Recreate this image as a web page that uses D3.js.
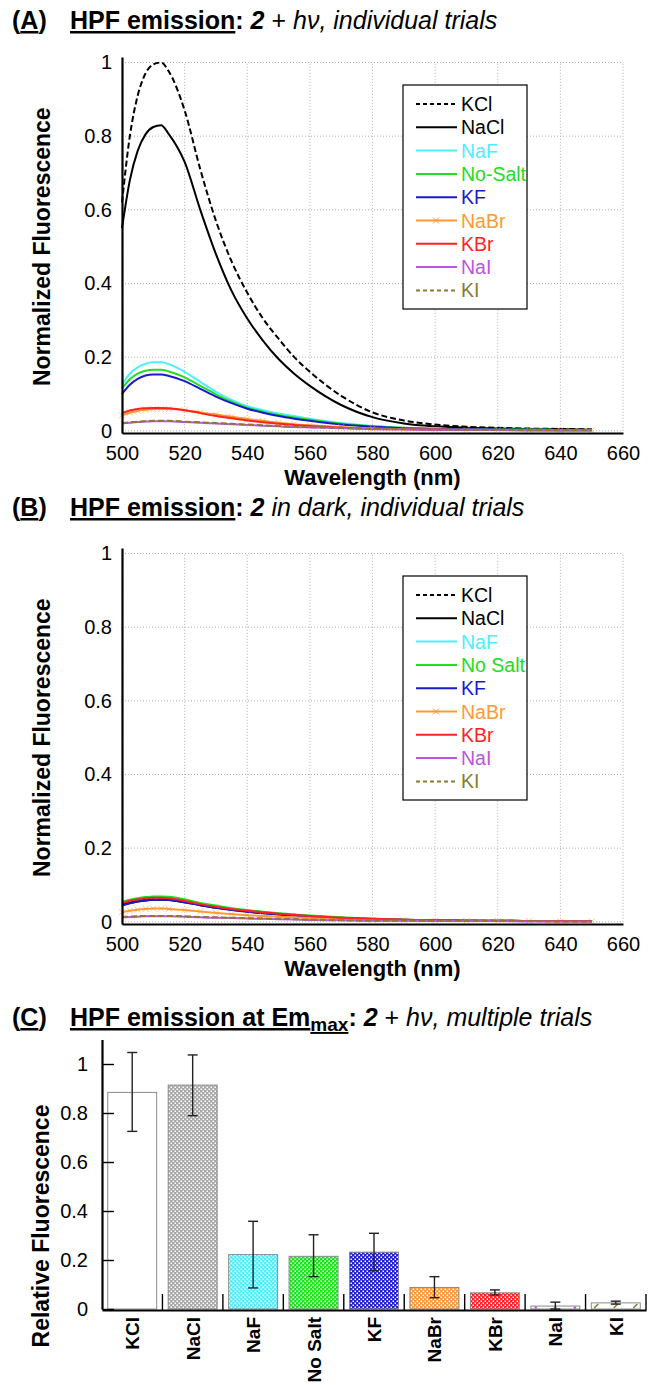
<!DOCTYPE html>
<html>
<head>
<meta charset="utf-8">
<script src="https://cdn.jsdelivr.net/npm/d3@7"></script>
<style>
  body { margin: 0; background: #fff; }
  svg { display: block; font-family: "Liberation Sans", Arial, sans-serif; }
  .title { white-space: pre; }
</style>
</head>
<body>
<svg width="648" height="1385"></svg>
<script>
// wavelengths (nm) shared by every spectrum
const wavelengths = [500, 502.5, 505, 507.5, 510, 512.5, 515, 520, 525, 530, 535, 540, 545, 550, 555, 560, 570, 580, 590, 600, 610, 620, 630, 640, 650];

const xTicks = [500, 520, 540, 560, 580, 600, 620, 640, 660];
const yTicks = [0, 0.2, 0.4, 0.6, 0.8, 1];

const namesA = ['KCl', 'NaCl', 'NaF', 'No-Salt', 'KF', 'NaBr', 'KBr', 'NaI', 'KI'];
const namesB = ['KCl', 'NaCl', 'NaF', 'No Salt', 'KF', 'NaBr', 'KBr', 'NaI', 'KI'];
const saltColors = ['#000000', '#000000', '#4deeff', '#22dd22', '#1a1acc', '#ff9933', '#ff2222', '#bb55dd', '#8a7a30'];

// (A) 2 + hv
const kclA = [0.62, 0.80, 0.91, 0.97, 0.995, 1.0, 0.975, 0.87, 0.71, 0.57, 0.46, 0.375, 0.305, 0.25, 0.2, 0.16, 0.095, 0.05, 0.028, 0.017, 0.011, 0.008, 0.006, 0.005, 0.004];
const naclA = [0.55, 0.68, 0.76, 0.805, 0.825, 0.83, 0.805, 0.73, 0.6, 0.48, 0.38, 0.305, 0.245, 0.195, 0.155, 0.122, 0.07, 0.037, 0.02, 0.012, 0.008, 0.006, 0.005, 0.004, 0.003];
const nafA = [0.125, 0.155, 0.172, 0.182, 0.186, 0.186, 0.181, 0.16, 0.133, 0.106, 0.084, 0.067, 0.056, 0.047, 0.04, 0.033, 0.021, 0.013, 0.008, 0.006, 0.004, 0.003, 0.003, 0.002, 0.002];
const nosaltA = [0.115, 0.14, 0.155, 0.163, 0.166, 0.166, 0.161, 0.145, 0.122, 0.099, 0.079, 0.063, 0.052, 0.043, 0.036, 0.03, 0.019, 0.012, 0.008, 0.005, 0.004, 0.003, 0.003, 0.002, 0.002];
const kfA = [0.1, 0.125, 0.141, 0.15, 0.153, 0.153, 0.149, 0.135, 0.114, 0.093, 0.075, 0.06, 0.049, 0.04, 0.033, 0.027, 0.017, 0.011, 0.007, 0.005, 0.004, 0.003, 0.002, 0.002, 0.002];
const nabrA = [0.042, 0.049, 0.054, 0.057, 0.059, 0.059, 0.059, 0.056, 0.05, 0.044, 0.038, 0.032, 0.027, 0.022, 0.018, 0.015, 0.01, 0.006, 0.004, 0.003, 0.002, 0.002, 0.002, 0.001, 0.001];
const kbrA = [0.048, 0.055, 0.059, 0.061, 0.062, 0.062, 0.061, 0.056, 0.048, 0.04, 0.034, 0.028, 0.023, 0.019, 0.016, 0.013, 0.008, 0.005, 0.004, 0.003, 0.002, 0.002, 0.001, 0.001, 0.001];
const naiA = [0.02, 0.022, 0.024, 0.025, 0.026, 0.026, 0.026, 0.024, 0.022, 0.02, 0.018, 0.016, 0.014, 0.012, 0.01, 0.009, 0.007, 0.005, 0.004, 0.003, 0.003, 0.002, 0.002, 0.002, 0.002];
const kiA = [0.021, 0.023, 0.025, 0.026, 0.027, 0.027, 0.027, 0.025, 0.023, 0.021, 0.019, 0.017, 0.015, 0.013, 0.011, 0.01, 0.008, 0.006, 0.005, 0.004, 0.003, 0.003, 0.002, 0.002, 0.002];

// (B) 2 in dark
const kclB = [0.048, 0.053, 0.057, 0.06, 0.062, 0.062, 0.061, 0.055, 0.047, 0.04, 0.034, 0.029, 0.025, 0.021, 0.018, 0.015, 0.011, 0.007, 0.005, 0.004, 0.003, 0.003, 0.002, 0.002, 0.002];
const naclB = [0.046, 0.051, 0.055, 0.058, 0.06, 0.06, 0.059, 0.053, 0.045, 0.038, 0.033, 0.028, 0.024, 0.02, 0.017, 0.015, 0.01, 0.007, 0.005, 0.004, 0.003, 0.003, 0.002, 0.002, 0.002];
const nafB = [0.052, 0.058, 0.062, 0.065, 0.066, 0.066, 0.065, 0.058, 0.049, 0.042, 0.035, 0.03, 0.026, 0.022, 0.019, 0.016, 0.011, 0.008, 0.006, 0.004, 0.003, 0.003, 0.002, 0.002, 0.002];
const nosaltB = [0.054, 0.06, 0.064, 0.067, 0.069, 0.069, 0.068, 0.061, 0.051, 0.044, 0.037, 0.032, 0.027, 0.023, 0.02, 0.017, 0.012, 0.008, 0.006, 0.004, 0.003, 0.003, 0.002, 0.002, 0.002];
const kfB = [0.044, 0.05, 0.055, 0.058, 0.06, 0.06, 0.059, 0.053, 0.045, 0.038, 0.032, 0.027, 0.023, 0.02, 0.017, 0.014, 0.01, 0.007, 0.005, 0.004, 0.003, 0.002, 0.002, 0.002, 0.001];
const nabrB = [0.026, 0.03, 0.033, 0.035, 0.036, 0.036, 0.035, 0.032, 0.028, 0.024, 0.021, 0.018, 0.016, 0.014, 0.012, 0.01, 0.007, 0.005, 0.004, 0.003, 0.002, 0.002, 0.002, 0.001, 0.001];
const kbrB = [0.05, 0.057, 0.061, 0.064, 0.065, 0.065, 0.064, 0.057, 0.048, 0.041, 0.035, 0.03, 0.026, 0.022, 0.019, 0.016, 0.011, 0.008, 0.006, 0.004, 0.003, 0.003, 0.002, 0.002, 0.002];
const naiB = [0.012, 0.013, 0.014, 0.015, 0.015, 0.015, 0.015, 0.014, 0.012, 0.011, 0.01, 0.009, 0.008, 0.007, 0.006, 0.005, 0.004, 0.003, 0.003, 0.002, 0.002, 0.002, 0.001, 0.001, 0.001];
const kiB = [0.013, 0.014, 0.015, 0.016, 0.016, 0.016, 0.016, 0.015, 0.013, 0.012, 0.011, 0.01, 0.009, 0.008, 0.007, 0.006, 0.004, 0.003, 0.003, 0.002, 0.002, 0.002, 0.002, 0.001, 0.001];

// (C) emission at Em max, multiple trials
const saltsC = ['KCl', 'NaCl', 'NaF', 'No Salt', 'KF', 'NaBr', 'KBr', 'NaI', 'KI'];
const barMeans = [0.884, 0.914, 0.222, 0.215, 0.232, 0.088, 0.066, 0.012, 0.025];
const barLow = [0.725, 0.789, 0.086, 0.132, 0.156, 0.046, 0.057, 0.0, 0.02];
const barHigh = [1.047, 1.037, 0.358, 0.303, 0.309, 0.132, 0.078, 0.028, 0.032];
const yTicksC = [0, 0.2, 0.4, 0.6, 0.8, 1];

const svg = d3.select('svg');
const defs = svg.append('defs');

// small text helper for the panel titles
function title(y, pieces) {
  const t = svg.append('text').attr('class', 'title').attr('y', y).attr('font-size', 25);
  pieces.forEach(p => {
    const s = t.append('tspan').text(p.t);
    if (p.x != null) s.attr('x', p.x);
    if (p.dy != null) s.attr('dy', p.dy);
    if (p.b) s.attr('font-weight', 'bold');
    if (p.i) s.attr('font-style', 'italic');
    if (p.u) s.attr('text-decoration', 'underline');
    if (p.fs) s.attr('font-size', p.fs);
  });
}

function spectrumPanel(top, series, names) {
  const x = d3.scaleLinear().domain([500, 660]).range([122, 623]);
  const y = d3.scaleLinear().domain([-0.006, 1.015]).range([top + 433, top + 57]);

  // dotted grid
  svg.append('g').selectAll('line').data(xTicks).enter().append('line')
    .attr('x1', d => x(d)).attr('x2', d => x(d))
    .attr('y1', y(0)).attr('y2', y(1))
    .attr('stroke', '#b0b0b0').attr('stroke-dasharray', '1,2');
  svg.append('g').selectAll('line').data(yTicks).enter().append('line')
    .attr('x1', x(500)).attr('x2', x(660))
    .attr('y1', d => y(d)).attr('y2', d => y(d))
    .attr('stroke', '#b0b0b0').attr('stroke-dasharray', '1,2');

  const line = d3.line()
    .x((d, i) => x(wavelengths[i]))
    .y(d => y(d))
    .curve(d3.curveMonotoneX);

  series.forEach((vals, i) => {
    svg.append('path')
      .attr('d', line(vals))
      .attr('fill', 'none')
      .attr('stroke', saltColors[i])
      .attr('stroke-width', 2)
      .attr('stroke-dasharray', (i === 0 || i === 8) ? '6,3' : null);
    if (i === 5) {
      // NaBr has x markers
      svg.append('g').selectAll('path').data(vals).enter().append('path')
        .attr('d', (d, j) => {
          const cx = x(wavelengths[j]), cy = y(d);
          return `M${cx - 3},${cy - 3}L${cx + 3},${cy + 3}M${cx - 3},${cy + 3}L${cx + 3},${cy - 3}`;
        })
        .attr('stroke', saltColors[5]).attr('stroke-width', 1).attr('opacity', 0.6);
    }
  });

  // axes
  const ya = svg.append('g').attr('transform', `translate(${x(500)},0)`)
    .call(d3.axisLeft(y).tickValues(yTicks).tickSize(0).tickPadding(10).tickFormat(d3.format('~g')));
  const xa = svg.append('g').attr('transform', `translate(0,${top + 433})`)
    .call(d3.axisBottom(x).tickValues(xTicks).tickSize(0).tickPadding(13));
  [ya, xa].forEach(a => {
    a.select('.domain').attr('stroke-width', 2.2);
    a.selectAll('text').attr('font-size', 20).attr('font-family', 'Liberation Sans, Arial, sans-serif').attr('fill', '#000');
  });

  svg.append('text')
    .attr('transform', `translate(50,${(y(0) + y(1)) / 2}) rotate(-90)`)
    .attr('text-anchor', 'middle').attr('font-weight', 'bold').attr('font-size', 23)
    .text('Normalized Fluorescence');
  svg.append('text')
    .attr('x', (x(500) + x(660)) / 2).attr('y', top + 485)
    .attr('text-anchor', 'middle').attr('font-weight', 'bold').attr('font-size', 22)
    .text('Wavelength (nm)');

  // legend
  const lg = svg.append('g');
  lg.append('rect').attr('x', 403).attr('y', top + 85).attr('width', 124).attr('height', 224)
    .attr('fill', '#fff').attr('stroke', '#000').attr('stroke-width', 1.2);
  names.forEach((n, i) => {
    const ly = top + 104 + i * 23.3;
    lg.append('line').attr('x1', 416).attr('x2', 457).attr('y1', ly).attr('y2', ly)
      .attr('stroke', saltColors[i]).attr('stroke-width', 2)
      .attr('stroke-dasharray', (i === 0 || i === 8) ? '4,3' : null);
    if (i === 5) {
      lg.append('path').attr('d', `M433,${ly - 3}L439,${ly + 3}M433,${ly + 3}L439,${ly - 3}`)
        .attr('stroke', saltColors[5]).attr('stroke-width', 1);
    }
    lg.append('text').attr('x', 461).attr('y', ly).attr('dy', '0.36em')
      .attr('font-size', 19.5).attr('fill', saltColors[i]).text(n);
  });
}

title(29, [
  { t: '(', b: 1, x: 12 }, { t: 'A', b: 1, u: 1 }, { t: ')', b: 1 },
  { t: 'HPF emission', b: 1, u: 1, x: 70 }, { t: ':', b: 1 }, { t: ' 2', b: 1, i: 1 },
  { t: ' + ' }, { t: 'hν', i: 1 }, { t: ', individual trials', i: 1 }
]);
spectrumPanel(0, [kclA, naclA, nafA, nosaltA, kfA, nabrA, kbrA, naiA, kiA], namesA);

title(516, [
  { t: '(', b: 1, x: 12 }, { t: 'B', b: 1, u: 1 }, { t: ')', b: 1 },
  { t: 'HPF emission', b: 1, u: 1, x: 70 }, { t: ':', b: 1 }, { t: ' 2', b: 1, i: 1 },
  { t: ' in dark, individual trials', i: 1 }
]);
spectrumPanel(491, [kclB, naclB, nafB, nosaltB, kfB, nabrB, kbrB, naiB, kiB], namesB);

// ---- panel C: bar chart ----
title(1026, [
  { t: '(', b: 1, x: 12 }, { t: 'C', b: 1, u: 1 }, { t: ')', b: 1 },
  { t: 'HPF emission at Em', b: 1, u: 1, x: 70 }, { t: 'max', b: 1, u: 1, fs: 19, dy: 5 },
  { t: ':', b: 1, dy: -5 }, { t: ' 2', b: 1, i: 1 },
  { t: ' + ' }, { t: 'hν', i: 1 }, { t: ', multiple trials', i: 1 }
]);

function checker(id, color) {
  const p = defs.append('pattern').attr('id', id).attr('patternUnits', 'userSpaceOnUse')
    .attr('width', 4).attr('height', 4);
  p.append('rect').attr('width', 4).attr('height', 4).attr('fill', color);
  p.append('rect').attr('x', 0.5).attr('y', 0.5).attr('width', 1.5).attr('height', 1.5).attr('fill', '#fff');
  p.append('rect').attr('x', 2.5).attr('y', 2.5).attr('width', 1.5).attr('height', 1.5).attr('fill', '#fff');
}
const barColors = ['#ffffff', '#a8a8a8', '#55eeff', '#22dd22', '#2020cc', '#ff9933', '#ff2222', '#ffffff', '#ffffff'];
barColors.forEach((c, i) => { if (i >= 1 && i <= 6) checker('pat' + i, c); });

const xC = d3.scaleBand().domain(saltsC).range([102, 646]).paddingInner(0.19).paddingOuter(0.095);
const yC = d3.scaleLinear().domain([0, 1.1]).range([1309, 1039.5]);

svg.append('g').selectAll('rect').data(saltsC).enter().append('rect')
  .attr('x', d => xC(d)).attr('width', xC.bandwidth())
  .attr('y', (d, i) => yC(barMeans[i])).attr('height', (d, i) => yC(0) - yC(barMeans[i]))
  .attr('fill', (d, i) => (i >= 1 && i <= 6) ? `url(#pat${i})` : '#fff')
  .attr('stroke', '#8a8a8a').attr('stroke-width', 1);

// line-style marks inside the NaI and KI bars
[7, 8].forEach(i => {
  const d = saltsC[i];
  const my = (yC(0) + yC(barMeans[i])) / 2;
  [0.1, 0.5, 0.9].forEach(f => {
    const cx = xC(d) + xC.bandwidth() * f;
    if (i === 7) {
      svg.append('circle').attr('cx', cx).attr('cy', my).attr('r', 1.3).attr('fill', saltColors[7]);
    } else {
      svg.append('line').attr('x1', cx - 2).attr('x2', cx + 2).attr('y1', my + 2).attr('y2', my - 2)
        .attr('stroke', saltColors[8]).attr('stroke-width', 1.5);
    }
  });
});

// error bars
const eb = svg.append('g').attr('stroke', '#222').attr('stroke-width', 1.4);
saltsC.forEach((d, i) => {
  const cx = xC(d) + xC.bandwidth() / 2;
  eb.append('line').attr('x1', cx).attr('x2', cx).attr('y1', yC(barLow[i])).attr('y2', yC(barHigh[i]));
  eb.append('line').attr('x1', cx - 5).attr('x2', cx + 5).attr('y1', yC(barHigh[i])).attr('y2', yC(barHigh[i]));
  eb.append('line').attr('x1', cx - 5).attr('x2', cx + 5).attr('y1', yC(barLow[i])).attr('y2', yC(barLow[i]));
});

const yaC = svg.append('g').attr('transform', 'translate(102,0)')
  .call(d3.axisLeft(yC).tickValues(yTicksC).tickSizeInner(-12).tickSizeOuter(0).tickPadding(14).tickFormat(d3.format('~g')));
yaC.select('.domain').attr('stroke-width', 2.2);
yaC.selectAll('.tick line').attr('stroke-width', 1.4);
yaC.selectAll('text').attr('font-size', 20).attr('font-family', 'Liberation Sans, Arial, sans-serif');

const xaC = svg.append('g').attr('transform', 'translate(0,1310)')
  .call(d3.axisBottom(xC).tickSize(0).tickFormat(''));
xaC.select('.domain').attr('stroke-width', 2.2);

// category boundary ticks
const halfGap = xC.step() * xC.paddingInner() / 2;
svg.append('g').selectAll('line').data(saltsC).enter().append('line')
  .attr('x1', d => xC(d) + xC.bandwidth() + halfGap).attr('x2', d => xC(d) + xC.bandwidth() + halfGap)
  .attr('y1', 1310).attr('y2', 1294).attr('stroke', '#000').attr('stroke-width', 1.4);

svg.append('g').selectAll('text').data(saltsC).enter().append('text')
  .attr('transform', d => `translate(${xC(d) + xC.bandwidth() / 2 + 7},1317) rotate(-90)`)
  .attr('text-anchor', 'end').attr('font-weight', 'bold').attr('font-size', 19)
  .text(d => d);

svg.append('text')
  .attr('transform', `translate(49,1226) rotate(-90)`)
  .attr('text-anchor', 'middle').attr('font-weight', 'bold').attr('font-size', 23)
  .text('Relative Fluorescence');
</script>
</body>
</html>
